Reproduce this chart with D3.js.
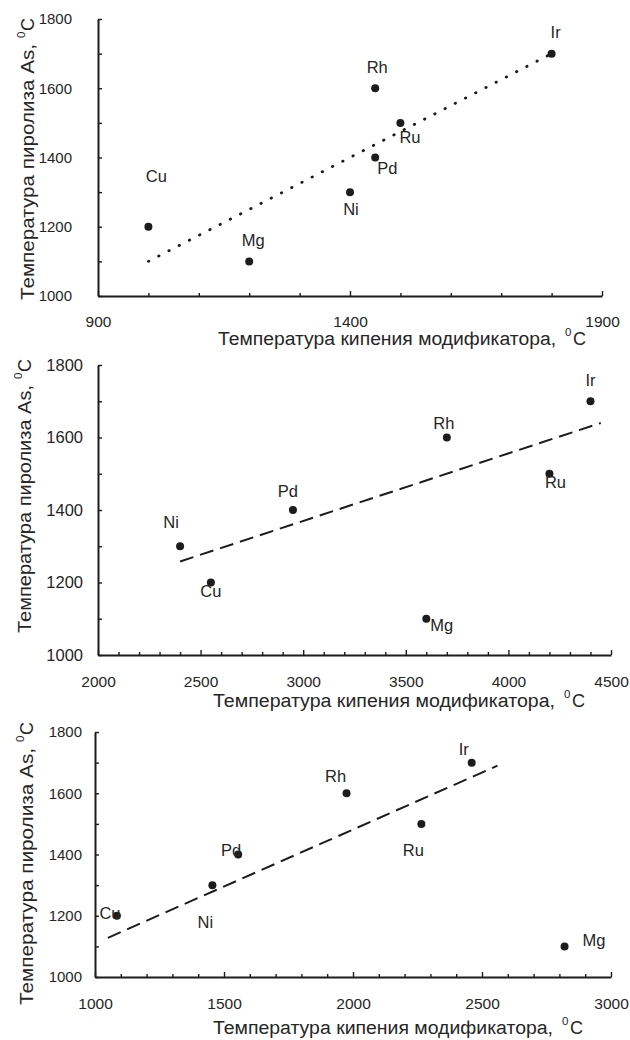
<!DOCTYPE html>
<html>
<head>
<meta charset="utf-8">
<script src="https://cdn.jsdelivr.net/npm/d3@7"></script>
<style>
  html, body { margin: 0; padding: 0; background: #fff; }
  svg { display: block; font-family: "Liberation Sans", Arial, sans-serif; }
</style>
</head>
<body>
<svg id="chart" width="630" height="1040"></svg>
<script>
// ---- Data: pyrolysis temperature of As vs. modifier temperature ----
// Panel A
const elementsA = ["Cu", "Mg", "Ni", "Rh", "Pd", "Ru", "Ir"];
const modTempA  = [1000, 1200, 1400, 1450, 1450, 1500, 1800];
const pyroTempA = [1200, 1100, 1300, 1600, 1400, 1500, 1700];
const trendXA   = [1000, 1795];
const trendYA   = [1100, 1696];
const xTickLabelsA = [900, 1400, 1900];

// Panel B
const elementsB = ["Ni", "Cu", "Pd", "Mg", "Rh", "Ru", "Ir"];
const modTempB  = [2400, 2550, 2950, 3600, 3700, 4200, 4400];
const pyroTempB = [1300, 1200, 1400, 1100, 1600, 1500, 1700];
const trendXB   = [2400, 4450];
const trendYB   = [1258, 1640];
const xTickLabelsB = [2000, 2500, 3000, 3500, 4000, 4500];

// Panel C
const elementsC = ["Cu", "Ni", "Pd", "Rh", "Ru", "Ir", "Mg"];
const modTempC  = [1085, 1455, 1555, 1975, 2265, 2460, 2820];
const pyroTempC = [1200, 1300, 1400, 1600, 1500, 1700, 1100];
const trendXC   = [1050, 2560];
const trendYC   = [1128, 1690];
const xTickLabelsC = [1000, 1500, 2000, 2500, 3000];

const yTickLabels = [1000, 1200, 1400, 1600, 1800];

const yTitle = "Температура пиролиза As,";
const xTitle = "Температура кипения модификатора,";

// ---- Layout ----
const panels = [
  {
    elements: elementsA, xs: modTempA, ys: pyroTempA, tx: trendXA, ty: trendYA,
    xTickLabels: xTickLabelsA,
    xDomain: [900, 1900], xStep: 100,
    left: 98, right: 602, top: 19, bottom: 296,
    xFont: 15.5, xPad: 20, yFont: 15, yPad: 26,
    dash: "0.5,11", dashWidth: 2.8, cap: "round",
    yTitlePos: [34, 300, 256], xTitlePos: [218, 345, 338],
    labels: { Cu: [8, -45, "middle"], Mg: [4, -15, "middle"], Ni: [1, 23, "middle"],
              Rh: [2, -15, "middle"], Pd: [2, 16, "start"], Ru: [-1, 20, "start"],
              Ir: [4, -16, "middle"] }
  },
  {
    elements: elementsB, xs: modTempB, ys: pyroTempB, tx: trendXB, ty: trendYB,
    xTickLabels: xTickLabelsB,
    xDomain: [2000, 4500], xStep: 100,
    left: 98, right: 611, top: 365, bottom: 655,
    xFont: 15.5, xPad: 21, yFont: 16.5, yPad: 15,
    dash: "14,7", dashWidth: 2, cap: "butt",
    yTitlePos: [31, 633, 248], xTitlePos: [213, 707, 342],
    labels: { Ni: [-9, -18, "middle"], Cu: [0, 14, "middle"], Pd: [-5, -13, "middle"],
              Mg: [4, 12, "start"], Rh: [-3, -9, "middle"], Ru: [6, 14, "middle"],
              Ir: [0, -15, "middle"] }
  },
  {
    elements: elementsC, xs: modTempC, ys: pyroTempC, tx: trendXC, ty: trendYC,
    xTickLabels: xTickLabelsC,
    xDomain: [1000, 3000], xStep: 100,
    left: 95, right: 611, top: 732, bottom: 977,
    xFont: 15.5, xPad: 21, yFont: 15, yPad: 13,
    dash: "14,7", dashWidth: 2, cap: "butt",
    yTitlePos: [33, 1005, 257], xTitlePos: [213, 1034, 340],
    labels: { Cu: [-7, 3, "middle"], Ni: [-7, 43, "middle"], Pd: [-7, 1, "middle"],
              Rh: [-11, -11, "middle"], Ru: [-8, 32, "middle"], Ir: [-8, -8, "middle"],
              Mg: [18, 0, "start"] }
  }
];

const ink = "#1c1c1c";
const textInk = "#262626";
const svg = d3.select("#chart");

function drawPanel(p) {
  const g = svg.append("g");
  const x = d3.scaleLinear().domain(p.xDomain).range([p.left, p.right]);
  const y = d3.scaleLinear().domain([1000, 1800]).range([p.bottom, p.top]);

  const xTicks = d3.range(p.xDomain[0], p.xDomain[1] + 1, p.xStep);
  const yTicks = d3.range(1000, 1801, 100);

  // x axis with inward ticks
  const xAxis = d3.axisBottom(x)
    .tickValues(xTicks)
    .tickSizeInner(-3)
    .tickSizeOuter(0)
    .tickPadding(p.xPad)
    .tickFormat(d => p.xTickLabels.includes(d) ? String(d) : "");
  const gx = g.append("g").attr("transform", `translate(0,${p.bottom})`).call(xAxis);
  gx.selectAll(".tick line")
    .attr("y2", d => p.xTickLabels.includes(d) ? -5 : -3)
    .attr("stroke", ink).attr("stroke-width", 1.4);

  // y axis with inward ticks
  const yAxis = d3.axisLeft(y)
    .tickValues(yTicks)
    .tickSizeInner(-4)
    .tickSizeOuter(0)
    .tickPadding(p.yPad)
    .tickFormat(d => yTickLabels.includes(d) ? String(d) : "");
  const gy = g.append("g").attr("transform", `translate(${p.left},0)`).call(yAxis);
  gy.selectAll(".tick line").attr("stroke", ink).attr("stroke-width", 1.4);

  [gx, gy].forEach(a => {
    a.attr("font-family", null).attr("font-size", null);
    a.select(".domain").attr("stroke", ink).attr("stroke-width", 2);
  });
  gx.selectAll("text").attr("fill", textInk).attr("font-size", p.xFont);
  gy.selectAll("text").attr("fill", textInk).attr("font-size", p.yFont);

  // trend line
  const line = d3.line().x(d => x(d[0])).y(d => y(d[1]));
  g.append("path")
    .datum(d3.zip(p.tx, p.ty))
    .attr("d", line)
    .attr("fill", "none")
    .attr("stroke", ink)
    .attr("stroke-width", p.dashWidth)
    .attr("stroke-linecap", p.cap)
    .attr("stroke-dasharray", p.dash);

  // points
  const pts = p.elements.map((e, i) => ({ e, vx: p.xs[i], vy: p.ys[i] }));
  g.selectAll("circle.pt").data(pts).enter().append("circle")
    .attr("class", "pt")
    .attr("cx", d => x(d.vx))
    .attr("cy", d => y(d.vy))
    .attr("r", 4)
    .attr("fill", ink);

  // element labels
  g.selectAll("text.el").data(pts).enter().append("text")
    .attr("class", "el")
    .attr("x", d => x(d.vx) + p.labels[d.e][0])
    .attr("y", d => y(d.vy) + p.labels[d.e][1])
    .attr("text-anchor", d => p.labels[d.e][2])
    .attr("font-size", 16.5)
    .attr("fill", textInk)
    .text(d => d.e);

  // y title (rotated) with superscript degree zero
  const [yx, yy, yl] = p.yTitlePos;
  const gt = g.append("g").attr("transform", `translate(${yx},${yy}) rotate(-90)`);
  gt.append("text").attr("x", 0).attr("y", 0)
    .attr("font-size", 18).attr("fill", textInk)
    .attr("textLength", yl).attr("lengthAdjust", "spacingAndGlyphs")
    .text(yTitle);
  gt.append("text").attr("x", yl + 6).attr("y", -9)
    .attr("font-size", 11.5).attr("fill", textInk).text("0");
  gt.append("text").attr("x", yl + 13).attr("y", 0)
    .attr("font-size", 18).attr("fill", textInk).text("C");

  // x title with superscript degree zero
  const [xx, xy, xl] = p.xTitlePos;
  g.append("text").attr("x", xx).attr("y", xy)
    .attr("font-size", 18).attr("fill", textInk)
    .attr("textLength", xl).attr("lengthAdjust", "spacingAndGlyphs")
    .text(xTitle);
  g.append("text").attr("x", xx + xl + 9).attr("y", xy - 9)
    .attr("font-size", 11.5).attr("fill", textInk).text("0");
  g.append("text").attr("x", xx + xl + 17).attr("y", xy)
    .attr("font-size", 18).attr("fill", textInk).text("C");
}

panels.forEach(drawPanel);
</script>
</body>
</html>
